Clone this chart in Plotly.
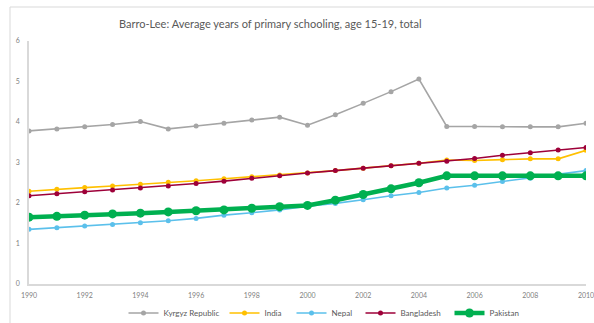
import plotly.graph_objects as go

years = list(range(1990, 2011))

kyrgyz = [3.78, 3.83, 3.88, 3.94, 4.01, 3.83, 3.90, 3.97, 4.05, 4.12, 3.92,
          4.18, 4.46, 4.75, 5.06, 3.89, 3.89, 3.88, 3.88, 3.88, 3.97]
india = [2.29, 2.34, 2.38, 2.42, 2.46, 2.51, 2.55, 2.60, 2.65, 2.69, 2.74,
         2.80, 2.86, 2.92, 2.98, 3.06, 3.05, 3.07, 3.09, 3.09, 3.30]
nepal = [1.35, 1.39, 1.43, 1.47, 1.51, 1.56, 1.62, 1.70, 1.76, 1.83, 1.92,
         1.99, 2.08, 2.18, 2.26, 2.37, 2.44, 2.53, 2.61, 2.70, 2.80]
bangladesh = [2.18, 2.23, 2.28, 2.32, 2.37, 2.42, 2.48, 2.54, 2.61, 2.67, 2.74,
              2.80, 2.86, 2.92, 2.98, 3.03, 3.10, 3.18, 3.24, 3.31, 3.37]
pakistan = [1.65, 1.67, 1.70, 1.73, 1.75, 1.78, 1.81, 1.83, 1.87, 1.91, 1.94,
            2.07, 2.21, 2.35, 2.50, 2.67, 2.67, 2.67, 2.67, 2.67, 2.67]

# name, values, colour, line width, marker size, legend entry width
series = [
    ("Kyrgyz Republic", kyrgyz, "#A5A5A5", 1.6, 5, 56),
    ("India", india, "#FFC000", 1.6, 5, 22),
    ("Nepal", nepal, "#5BC0EB", 1.6, 5, 24),
    ("Bangladesh", bangladesh, "#9E0039", 1.6, 5, 44),
    ("Pakistan", pakistan, "#00B050", 4.5, 9, 34),
]

fig = go.Figure()
for name, vals, color, lw, ms, lgw in series:
    fig.add_trace(go.Scatter(
        x=years, y=vals, name=name, mode="lines+markers",
        line=dict(color=color, width=lw),
        marker=dict(color=color, size=ms),
        legendwidth=lgw,
    ))

font_family = "Lato, 'Open Sans', sans-serif"
axis_font = dict(family=font_family, size=7, color="#7F7F7F")

fig.update_layout(
    width=594, height=323,
    margin=dict(l=29, r=8, t=41, b=39),
    paper_bgcolor="white", plot_bgcolor="white",
    title=dict(
        text="Barro-Lee: Average years of primary schooling, age 15-19, total",
        x=0.455, xref="container", xanchor="center",
        y=1 - 24 / 323, yref="container", yanchor="middle",
        font=dict(family=font_family, size=11, color="#595959"),
    ),
    xaxis=dict(
        range=[1990, 2010], tickvals=list(range(1990, 2011, 2)),
        showgrid=False, zeroline=False, automargin=False,
        showline=True, linecolor="#D9D9D9", linewidth=1.5,
        ticks="", tickfont=axis_font, ticklabelstandoff=4,
        ticklabeloverflow="allow",
    ),
    yaxis=dict(
        range=[0, 6], tickvals=list(range(0, 7)),
        showgrid=False, zeroline=False, automargin=False,
        showline=True, linecolor="#D9D9D9", linewidth=1.5,
        ticks="", tickfont=axis_font, ticklabelstandoff=6,
    ),
    legend=dict(
        orientation="h", x=326 / 594, xref="container", xanchor="center",
        y=1 - 313 / 323, yref="container", yanchor="middle",
        font=dict(family=font_family, size=8, color="#595959"),
        itemwidth=30, traceorder="normal",
    ),
    shapes=[dict(
        type="rect", xref="paper", yref="paper",
        x0=(10 - 29) / 557, x1=(620 - 29) / 557,
        y0=(284 - 340) / 243, y1=(284 - 7) / 243,
        line=dict(color="#D9D9D9", width=1), layer="below",
    )],
)

fig.write_html("out.html")
